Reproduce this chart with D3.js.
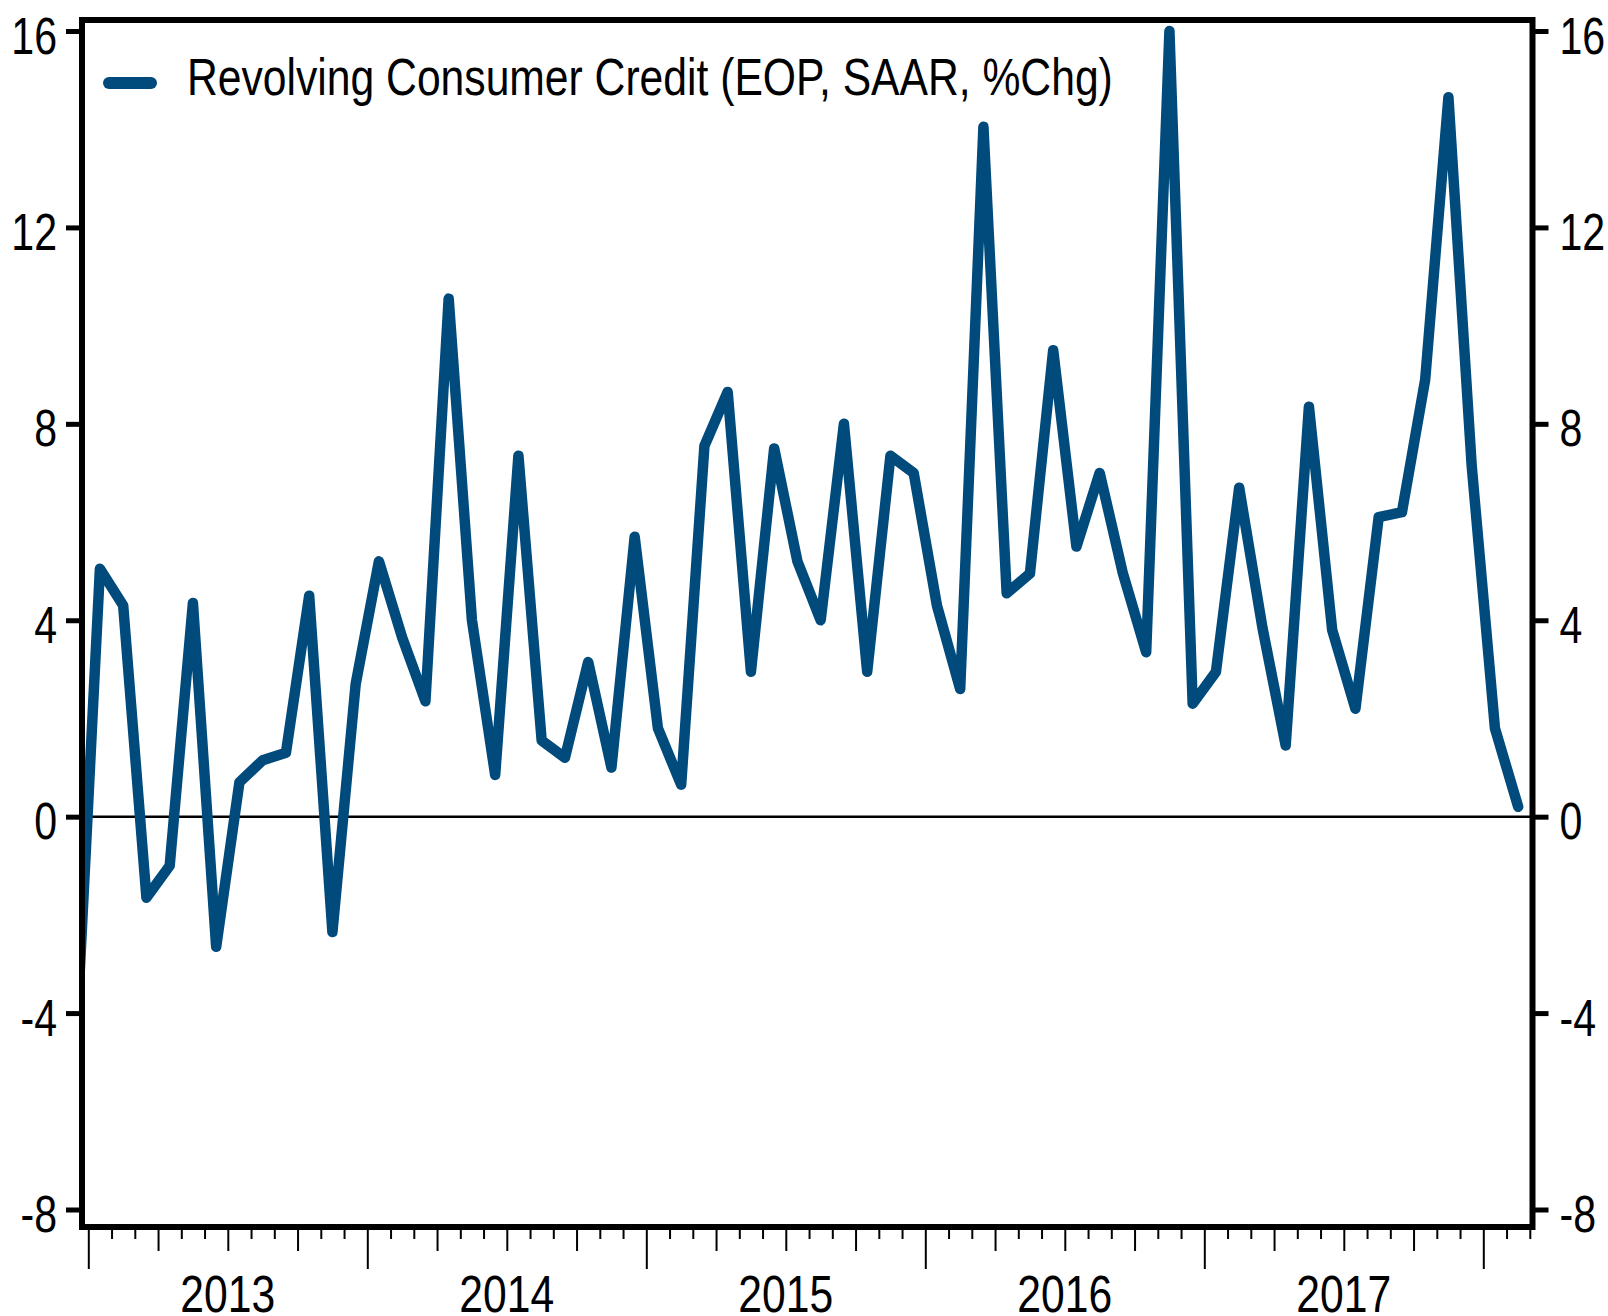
<!DOCTYPE html>
<html>
<head>
<meta charset="utf-8">
<script src="https://cdn.jsdelivr.net/npm/d3@7"></script>
<style>
  html, body { margin: 0; padding: 0; background: #fff; }
  svg { display: block; }
  text { font-family: "Liberation Sans", Arial, sans-serif; }
</style>
</head>
<body>
<svg id="chart" width="1608" height="1316"></svg>
<script>
// ---- Data (monthly, Dec 2012 .. Feb 2018) ----
const months = [
  "2012-12",
  "2013-01","2013-02","2013-03","2013-04","2013-05","2013-06","2013-07","2013-08","2013-09","2013-10","2013-11","2013-12",
  "2014-01","2014-02","2014-03","2014-04","2014-05","2014-06","2014-07","2014-08","2014-09","2014-10","2014-11","2014-12",
  "2015-01","2015-02","2015-03","2015-04","2015-05","2015-06","2015-07","2015-08","2015-09","2015-10","2015-11","2015-12",
  "2016-01","2016-02","2016-03","2016-04","2016-05","2016-06","2016-07","2016-08","2016-09","2016-10","2016-11","2016-12",
  "2017-01","2017-02","2017-03","2017-04","2017-05","2017-06","2017-07","2017-08","2017-09","2017-10","2017-11","2017-12",
  "2018-01","2018-02"
];
const revolvingCredit = [
  -4.4,
  5.05, 4.3, -1.65, -1.0, 4.35, -2.65, 0.7, 1.15, 1.3, 4.5, -2.35, 2.7,
  5.2, 3.65, 2.35, 10.55, 4.0, 0.85, 7.35, 1.55, 1.2, 3.15, 1.0, 5.7,
  1.8, 0.65, 7.55, 8.65, 2.95, 7.5, 5.2, 4.0, 8.0, 2.95, 7.35, 7.0,
  4.3, 2.6, 14.05, 4.55, 4.95, 9.5, 5.5, 7.0, 4.95, 3.35, 16.0, 2.3,
  2.95, 6.7, 3.85, 1.45, 8.35, 3.8, 2.2, 6.1, 6.2, 8.9, 14.65, 7.15,
  1.8, 0.2
];
const yTicks = [-8, -4, 0, 4, 8, 12, 16];
const yearLabels = ["2013", "2014", "2015", "2016", "2017"];
const seriesName = "Revolving Consumer Credit (EOP, SAAR, %Chg)";

// ---- Layout ----
const svg = d3.select("#chart");
const frame = { left: 82, right: 1532.5, top: 20, bottom: 1227 };
const lineColor = "#004a7c";
const FONT_SIZE = 52;

// narrow the text horizontally (no narrow font installed)
function condense(sel, factor) {
  sel.each(function () {
    const w = this.getComputedTextLength();
    d3.select(this).attr("textLength", w * factor).attr("lengthAdjust", "spacingAndGlyphs");
  });
}

// month index: 0 = Jan 2013 (start of month)
function monthIndex(s) {
  const [yy, mm] = s.split("-").map(Number);
  return (yy - 2013) * 12 + (mm - 1);
}
const data = months.map((m, i) => ({ t: monthIndex(m) + 0.5, v: revolvingCredit[i] }));

const x = d3.scaleLinear().domain([-0.271, 62.116]).range([frame.left, frame.right]);
const y = d3.scaleLinear().domain([-8, 16]).range([1209.5, 31]);

// clip
svg.append("defs").append("clipPath").attr("id", "plotClip")
  .append("rect")
  .attr("x", frame.left + 3).attr("y", frame.top + 3)
  .attr("width", frame.right - frame.left - 6).attr("height", frame.bottom - frame.top - 6);

// zero line
svg.append("line")
  .attr("x1", frame.left).attr("x2", frame.right)
  .attr("y1", y(0)).attr("y2", y(0))
  .attr("stroke", "#000").attr("stroke-width", 2.5);

// series line
const line = d3.line().x(d => x(d.t)).y(d => y(d.v));
svg.append("path")
  .datum(data)
  .attr("clip-path", "url(#plotClip)")
  .attr("d", line)
  .attr("fill", "none")
  .attr("stroke", lineColor)
  .attr("stroke-width", 10.5)
  .attr("stroke-linejoin", "round")
  .attr("stroke-linecap", "round");

// frame
svg.append("rect")
  .attr("x", frame.left).attr("y", frame.top)
  .attr("width", frame.right - frame.left).attr("height", frame.bottom - frame.top)
  .attr("fill", "none").attr("stroke", "#000").attr("stroke-width", 6);

// left axis
const leftAxis = svg.append("g")
  .attr("transform", `translate(${frame.left - 2},0)`)
  .call(d3.axisLeft(y).tickValues(yTicks).tickSize(14).tickPadding(9).tickFormat(d => String(d)));
// right axis
const rightAxis = svg.append("g")
  .attr("transform", `translate(${frame.right + 2},0)`)
  .call(d3.axisRight(y).tickValues(yTicks).tickSize(14).tickPadding(11).tickFormat(d => String(d)));
[leftAxis, rightAxis].forEach(g => {
  g.select(".domain").remove();
  g.selectAll(".tick line").attr("stroke", "#000").attr("stroke-width", 5);
  g.selectAll(".tick text")
    .attr("font-size", FONT_SIZE).attr("fill", "#000")
    .attr("dy", 22)
    .style("font-family", '"Liberation Sans", Arial, sans-serif')
    .call(condense, 0.79);
});

// bottom axis: monthly ticks Jan 2013 .. Mar 2018
const monthTicks = d3.range(0, 63);
const bottomAxis = svg.append("g")
  .attr("transform", `translate(0,${frame.bottom + 3})`)
  .call(d3.axisBottom(x).tickValues(monthTicks).tickFormat(""));
bottomAxis.select(".domain").remove();
bottomAxis.selectAll(".tick line")
  .attr("stroke", "#000")
  .attr("stroke-width", 2)
  .attr("y2", d => d % 12 === 0 ? 39 : (d % 3 === 0 ? 21 : 9));

// year labels centred under each year
svg.append("g").selectAll("text")
  .data(yearLabels)
  .join("text")
  .attr("x", (d, i) => x(i * 12 + 6))
  .attr("y", 1312)
  .attr("text-anchor", "middle")
  .attr("font-size", FONT_SIZE)
  .attr("fill", "#000")
  .text(d => d)
  .call(condense, 0.82);

// legend
const legend = svg.append("g");
legend.append("line")
  .attr("x1", 109).attr("x2", 151)
  .attr("y1", 83).attr("y2", 83)
  .attr("stroke", lineColor).attr("stroke-width", 12).attr("stroke-linecap", "round");
legend.append("text")
  .attr("x", 187).attr("y", 95)
  .attr("font-size", FONT_SIZE)
  .attr("fill", "#000")
  .text(seriesName)
  .call(condense, 0.82);
</script>
</body>
</html>
